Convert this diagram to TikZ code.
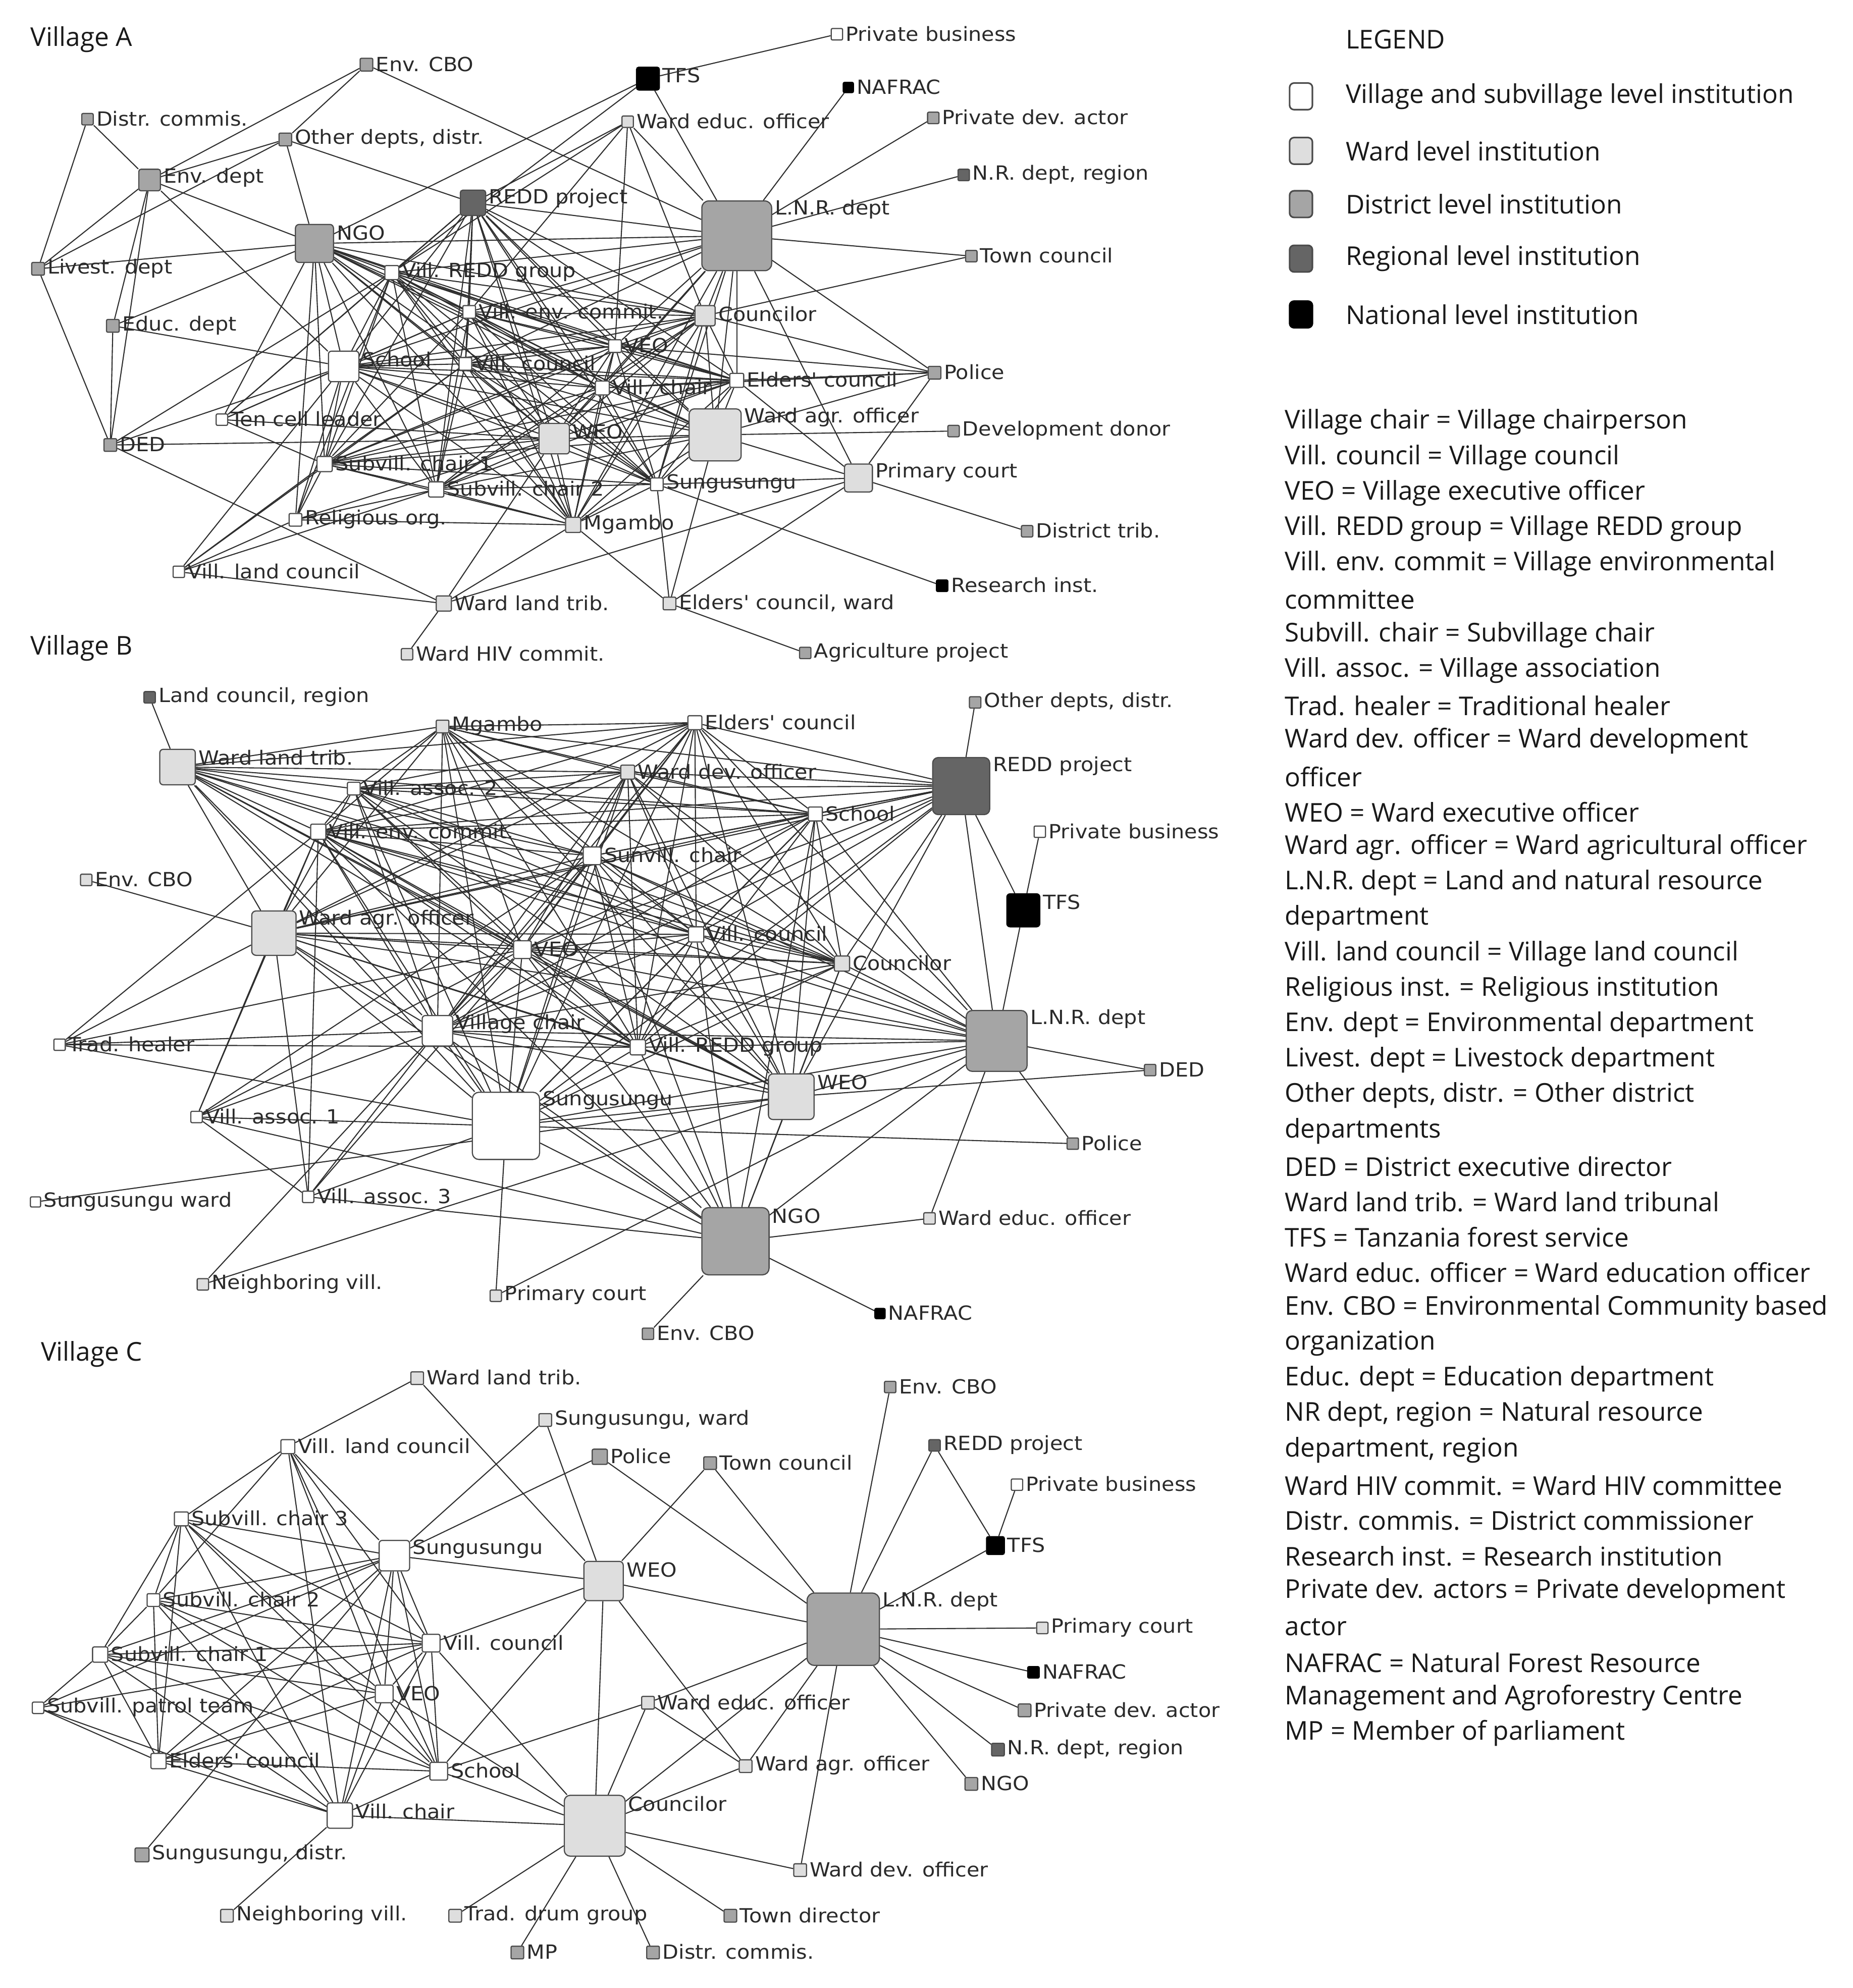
\documentclass[tikz,border=0pt]{standalone}
\usepackage{fontspec}
\setmainfont{Open Sans}
\newfontfamily\labf[FakeStretch=1.07]{DejaVu Sans}
\usetikzlibrary{calc}
\pgfdeclarelayer{bgl}
\pgfdeclarelayer{edges}
\pgfsetlayers{bgl,edges,main}
\definecolor{cwrd}{HTML}{DEDEDE}
\definecolor{cdis}{HTML}{A5A5A5}
\definecolor{creg}{HTML}{656565}
\definecolor{cnat}{HTML}{000000}
\definecolor{cbrd}{HTML}{4A4A4A}
\definecolor{cedge}{HTML}{2E2E2E}
\definecolor{ctxt}{HTML}{2A2A2A}
\def\un{0.02511cm}
\tikzset{
  sq/.style={rectangle, draw=cbrd, line width=0.65pt, inner sep=0pt},
  vil/.style={fill=white},
  wrd/.style={fill=cwrd},
  dis/.style={fill=cdis},
  reg/.style={fill=creg},
  nat/.style={fill=cnat, draw=black},
  lab/.style={font=\labf\fontsize{11}{13}\selectfont, text=ctxt, inner sep=0pt},
  edge/.style={draw=cedge, line width=0.6pt},
  head/.style={font=\fontsize{14.6}{18}\selectfont, text=black!90, inner sep=0pt},
  legsq/.style={rectangle, draw=cbrd, line width=0.9pt, minimum width=18*\un, minimum height=21*\un, rounded corners=2.5pt, inner sep=0pt},
  deftxt/.style={font=\fontsize{14.6}{18}\selectfont, text=black!90, inner sep=0pt, anchor=west}
}
\newcommand\nd[6]{%
  \pgfmathsetmacro\ndrc{max(0.7,#4*0.07)}%
  \pgfmathsetmacro\ndy{min(#4/2,7)}%
  \node[sq,#5,minimum size=#4*\un,rounded corners=\ndrc pt] (#1) at (#2,#3) {};
  \node[lab,anchor=west] (#1-l) at ([xshift=1.8*\un,yshift=-\ndy*\un]#1.north east) {#6};
}
\newcommand\clique[1]{%
  \foreach \p [count=\i] in {#1}{%
    \foreach \q [count=\j] in {#1}{%
      \ifnum\j>\i \draw[edge] (\p) -- (\q);\fi
    }%
  }%
}
\newcommand\hub[2]{\foreach \q in {#2}{\draw[edge] (#1) -- (\q);}}
\newcommand\links[1]{\foreach \p/\q in {#1}{\draw[edge] (\p) -- (\q);}}
\begin{document}
\begin{tikzpicture}[x=0.02511cm,y=-0.02511cm]
\useasboundingbox (0,0) rectangle (1461,1568);
\begin{pgfonlayer}{bgl}
\fill[white] (0,0) rectangle (1461,1568);
\end{pgfonlayer}

% ---------------- headings ----------------
\node[head,anchor=west] (hA) at (24,31) {Village A};
\node[head,anchor=west] (hB) at (24,511) {Village B};
\node[head,anchor=west] (hC) at (32,1068) {Village C};

% ---------------- Village A ----------------
\nd{aEnvCBO}{289}{51}{10}{dis}{Env. CBO}
\nd{aDistr}{69}{94}{9}{dis}{Distr. commis.}
\nd{aOther}{225}{110}{10}{dis}{Other depts, distr.}
\nd{aEnvD}{118}{142}{17}{dis}{Env. dept}
\nd{aNGO}{248}{192}{30}{dis}{NGO}
\nd{aREDD}{373}{160}{20}{reg}{REDD project}
\nd{aTFS}{511}{62}{18}{nat}{TFS}
\nd{aPriv}{660}{27}{9}{vil}{Private business}
\nd{aNAF}{669}{69}{8}{nat}{NAFRAC}
\nd{aWEdu}{495}{96}{9}{wrd}{Ward educ. officer}
\nd{aPDev}{736}{93}{9}{dis}{Private dev. actor}
\nd{aNRreg}{760}{138}{9}{reg}{N.R. dept, region}
\nd{aLNR}{581}{186}{55}{dis}{L.N.R. dept}
\nd{aTown}{766}{202}{9}{dis}{Town council}
\nd{aLiv}{30}{212}{10}{dis}{Livest. dept}
\nd{aVRG}{309}{215}{11}{vil}{Vill. REDD group}
\nd{aEduD}{89}{257}{10}{dis}{Educ. dept}
\nd{aVEC}{370}{246}{10}{vil}{Vill. env. commit.}
\nd{aCou}{556}{249}{16}{wrd}{Councilor}
\nd{aVEO}{485}{273}{10}{vil}{VEO}
\nd{aSch}{271}{289}{24}{vil}{School}
\nd{aVCo}{367}{287}{10}{vil}{Vill. council}
\nd{aVCh}{475}{306}{11}{vil}{Vill. chair}
\nd{aEld}{581}{300}{11}{vil}{Elders' council}
\nd{aPol}{737}{294}{10}{dis}{Police}
\nd{aTen}{175}{331}{9}{vil}{Ten cell leader}
\nd{aWAg}{564}{343}{41}{wrd}{Ward agr. officer}
\nd{aWEO}{437}{346}{24}{wrd}{WEO}
\nd{aDED}{87}{351}{10}{dis}{DED}
\nd{aDon}{752}{340}{9}{dis}{Development donor}
\nd{aSV1}{256}{366}{12}{vil}{Subvill. chair 1}
\nd{aSV2}{344}{386}{12}{vil}{Subvill. chair 2}
\nd{aSun}{518}{382}{10}{vil}{Sungusungu}
\nd{aPC}{677}{377}{22}{wrd}{Primary court}
\nd{aRel}{233}{410}{10}{vil}{Religious org.}
\nd{aMg}{452}{414}{12}{wrd}{Mgambo}
\nd{aDT}{810}{419}{9}{dis}{District trib.}
\nd{aVLC}{141}{451}{9}{vil}{Vill. land council}
\nd{aRes}{743}{462}{9}{nat}{Research inst.}
\nd{aWLT}{350}{476}{12}{wrd}{Ward land trib.}
\nd{aEldW}{528}{476}{10}{wrd}{Elders' council, ward}
\nd{aHIV}{321}{516}{9}{wrd}{Ward HIV commit.}
\nd{aAgr}{635}{515}{9}{dis}{Agriculture project}

% ---------------- Village B ----------------
\nd{bLandR}{118}{550}{9}{reg}{Land council, region}
\nd{bOther}{769}{554}{9}{dis}{Other depts, distr.}
\nd{bMg}{349}{573}{10}{wrd}{Mgambo}
\nd{bEld}{548}{570}{11}{vil}{Elders' council}
\nd{bWLT}{140}{605}{28}{wrd}{Ward land trib.}
\nd{bWDev}{495}{609}{11}{wrd}{Ward dev. officer}
\nd{bREDD}{758}{620}{45}{reg}{REDD project}
\nd{bVA2}{279}{622}{10}{vil}{Vill. assoc. 2}
\nd{bSch}{643}{642}{11}{vil}{School}
\nd{bVEC}{251}{656}{12}{vil}{Vill. env. commit.}
\nd{bPriv}{820}{656}{9}{vil}{Private business}
\nd{bSV}{467}{675}{14}{vil}{Sunvill. chair}
\nd{bEnvCBO}{68}{694}{9}{wrd}{Env. CBO}
\nd{bTFS}{807}{718}{26}{nat}{TFS}
\nd{bWAg}{216}{736}{35}{wrd}{Ward agr. officer}
\nd{bVEO}{412}{749}{14}{vil}{VEO}
\nd{bVCo}{549}{737}{12}{vil}{Vill. council}
\nd{bCou}{664}{760}{12}{wrd}{Councilor}
\nd{bLNR}{786}{821}{48}{dis}{L.N.R. dept}
\nd{bVCh}{345}{813}{24}{vil}{Village chair}
\nd{bTrad}{47}{824}{9}{vil}{Trad. healer}
\nd{bVRG}{503}{826}{12}{vil}{Vill. REDD group}
\nd{bDED}{907}{844}{9}{dis}{DED}
\nd{bWEO}{624}{865}{36}{wrd}{WEO}
\nd{bSun}{399}{888}{53}{vil}{Sungusungu}
\nd{bVA1}{155}{881}{9}{vil}{Vill. assoc. 1}
\nd{bPol}{846}{902}{9}{dis}{Police}
\nd{bSunW}{28}{948}{8}{vil}{Sungusungu ward}
\nd{bVA3}{243}{944}{9}{vil}{Vill. assoc. 3}
\nd{bNGO}{580}{979}{53}{dis}{NGO}
\nd{bWEdu}{733}{961}{9}{wrd}{Ward educ. officer}
\nd{bNeigh}{160}{1013}{9}{wrd}{Neighboring vill.}
\nd{bPC}{391}{1022}{9}{wrd}{Primary court}
\nd{bNAF}{694}{1036}{8}{nat}{NAFRAC}
\nd{bEnvCBOd}{511}{1052}{9}{dis}{Env. CBO}

% ---------------- Village C ----------------
\nd{cWLT}{329}{1087}{10}{wrd}{Ward land trib.}
\nd{cEnvCBO}{702}{1094}{9}{dis}{Env. CBO}
\nd{cSunW}{430}{1120}{10}{wrd}{Sungusungu, ward}
\nd{cVLC}{227}{1141}{11}{vil}{Vill. land council}
\nd{cREDD}{737}{1140}{9}{reg}{REDD project}
\nd{cPol}{473}{1149}{12}{dis}{Police}
\nd{cTown}{560}{1154}{10}{dis}{Town council}
\nd{cPriv}{802}{1171}{9}{vil}{Private business}
\nd{cSV3}{143}{1198}{11}{vil}{Subvill. chair 3}
\nd{cSun}{311}{1227}{24}{vil}{Sungusungu}
\nd{cTFS}{785}{1219}{14}{nat}{TFS}
\nd{cWEO}{476}{1247}{31}{wrd}{WEO}
\nd{cSV2}{121}{1262}{10}{vil}{Subvill. chair 2}
\nd{cLNR}{665}{1285}{57}{dis}{L.N.R. dept}
\nd{cPC}{822}{1284}{9}{wrd}{Primary court}
\nd{cVCo}{340}{1296}{14}{vil}{Vill. council}
\nd{cSV1}{79}{1305}{12}{vil}{Subvill. chair 1}
\nd{cNAF}{815}{1319}{9}{nat}{NAFRAC}
\nd{cVEO}{303}{1336}{14}{vil}{VEO}
\nd{cPatrol}{30}{1347}{9}{vil}{Subvill. patrol team}
\nd{cWEdu}{511}{1343}{10}{wrd}{Ward educ. officer}
\nd{cPDev}{808}{1349}{10}{dis}{Private dev. actor}
\nd{cNRreg}{787}{1380}{10}{reg}{N.R. dept, region}
\nd{cEld}{125}{1389}{12}{vil}{Elders' council}
\nd{cWAg}{588}{1393}{10}{wrd}{Ward agr. officer}
\nd{cSch}{346}{1397}{14}{vil}{School}
\nd{cNGO}{766}{1407}{10}{dis}{NGO}
\nd{cCou}{469}{1440}{48}{wrd}{Councilor}
\nd{cVCh}{268}{1432}{20}{vil}{Vill. chair}
\nd{cSunD}{112}{1463}{11}{dis}{Sungusungu, distr.}
\nd{cWDev}{631}{1475}{10}{wrd}{Ward dev. officer}
\nd{cNeigh}{179}{1511}{10}{wrd}{Neighboring vill.}
\nd{cTrad}{359}{1511}{10}{wrd}{Trad. drum group}
\nd{cTownD}{576}{1511}{10}{dis}{Town director}
\nd{cMP}{408}{1540}{10}{dis}{MP}
\nd{cDistr}{515}{1540}{10}{dis}{Distr. commis.}

% ---------------- edges ----------------
\begin{pgfonlayer}{edges}
% Village A
\links{aEnvCBO/aEnvD, aEnvCBO/aOther, aEnvCBO/aLNR, aDistr/aEnvD, aDistr/aLiv, aOther/aEnvD, aOther/aLiv, aOther/aNGO, aOther/aREDD, aEnvD/aLiv, aEnvD/aEduD, aEnvD/aNGO, aEnvD/aSch, aEnvD/aDED, aLiv/aDED, aLiv/aNGO, aEduD/aNGO, aEduD/aSch, aEduD/aDED, aDED/aVRG, aDED/aSch, aDED/aWEO, aDED/aWLT, aNGO/aTFS, aNGO/aLNR, aTFS/aPriv, aTFS/aVRG, aTFS/aLNR, aWEdu/aLNR, aWEdu/aCou, aWEdu/aVRG, aWEdu/aREDD, aWEdu/aVEC, aWEdu/aVEO, aNAF/aLNR, aPDev/aLNR, aNRreg/aLNR, aLNR/aTown, aTown/aCou, aLNR/aPol, aCou/aPol, aREDD/aLNR, aTen/aNGO, aTen/aSV1, aTen/aSch, aTen/aVRG, aTen/aVEC, aTen/aWEO, aVLC/aSV1, aVLC/aRel, aVLC/aSV2, aVLC/aSch, aVLC/aWLT, aVLC/aVCo, aRel/aMg, aRel/aSV1, aRel/aSV2, aRel/aVRG, aRel/aSch, aRel/aWEO, aWLT/aWEO, aWLT/aPC, aWLT/aMg, aHIV/aWLT, aMg/aEldW, aSun/aEldW, aSun/aPC, aSun/aRes, aPC/aEldW, aPC/aDT, aEldW/aAgr, aEldW/aWAg, aWAg/aDon, aWAg/aPC, aPC/aEld, aPC/aPol, aPC/aLNR, aPol/aEld, aPol/aVCh, aPol/aWAg, aWAg/aLNR, aPol/aVEO}
\hub{aREDD}{aVRG, aVEC, aSch, aVCo, aVEO, aVCh, aWEO, aSV1, aSV2, aSun, aMg, aCou, aEld, aTen, aWAg}
\hub{aNGO}{aVRG, aVEC, aSch, aVCo, aVEO, aVCh, aWEO, aSV1, aSV2, aSun, aMg, aRel, aWAg, aCou, aEld}
\hub{aLNR}{aVRG, aVEC, aCou, aVEO, aSch, aVCo, aVCh, aEld, aWEO, aSun, aMg}
\clique{aVRG, aVEC, aCou, aVEO, aSch, aVCo, aVCh, aEld, aWEO, aWAg, aSV1, aSV2, aSun, aMg}
% Village B
\links{bLandR/bWLT, bOther/bREDD, bPriv/bTFS, bTFS/bREDD, bTFS/bLNR, bREDD/bLNR, bEnvCBO/bWAg, bTrad/bVCh, bTrad/bVRG, bTrad/bWAg, bTrad/bVEC, bTrad/bSun, bTrad/bVEO, bVA1/bSun, bVA1/bVEC, bVA1/bVA3, bVA1/bWAg, bVA1/bVCh, bVA1/bVEO, bVA1/bSV, bVA3/bVCh, bVA3/bVEO, bVA3/bWAg, bVA3/bSun, bVA3/bVEC, bSunW/bWEO, bNeigh/bVCh, bNeigh/bWEO, bPC/bSun, bPC/bLNR, bNGO/bWEdu, bNGO/bNAF, bNGO/bEnvCBOd, bNGO/bLNR, bLNR/bDED, bWEO/bDED, bLNR/bPol, bLNR/bWEdu, bPol/bSun, bWEO/bLNR}
\hub{bREDD}{bEld, bWDev, bSch, bSV, bVA2, bVEC, bWAg, bVEO, bVCo, bCou, bVCh, bVRG, bWEO, bSun, bMg}
\hub{bLNR}{bWDev, bSch, bSV, bWAg, bVEO, bVCo, bCou, bVCh, bVRG, bSun, bVEC, bEld}
\hub{bNGO}{bVCh, bVRG, bVEO, bSV, bWAg, bVEC, bSun, bWEO, bVCo, bCou, bSch, bVA1, bVA3}
\clique{bWLT, bMg, bEld, bWDev, bVA2, bVEC, bSch, bSV, bWAg, bVEO, bVCo, bCou, bVCh, bVRG, bWEO, bSun}
% Village C
\links{cWLT/cVLC, cWLT/cWEO, cSunW/cSun, cSunW/cWEO, cPol/cSun, cPol/cLNR, cTown/cWEO, cTown/cLNR, cEnvCBO/cLNR, cREDD/cLNR, cREDD/cTFS, cPriv/cTFS, cTFS/cLNR, cLNR/cPC, cLNR/cNAF, cLNR/cPDev, cLNR/cNRreg, cLNR/cNGO, cWEO/cLNR, cWEO/cWAg, cLNR/cWEdu, cLNR/cWAg, cLNR/cWDev, cLNR/cCou, cCou/cWEdu, cWEdu/cWAg, cCou/cWAg, cCou/cWDev, cCou/cTownD, cCou/cDistr, cCou/cTrad, cCou/cMP, cWEO/cCou, cWEdu/cSch, cSun/cWEO, cVCo/cWEO, cWEO/cSch, cVCo/cCou, cVEO/cCou, cSch/cCou, cVCh/cCou, cNeigh/cVCh, cSunD/cSun, cVLC/cSV3, cVLC/cSV2, cVLC/cVCo, cVLC/cVEO, cVLC/cSch, cVLC/cVCh, cVLC/cSun, cSV3/cSV2, cSV3/cSV1, cSV3/cSun, cSV3/cVCo, cSV3/cVEO, cSV3/cSch, cSV3/cVCh, cSV3/cEld, cSV2/cSV1, cSV2/cSun, cSV2/cVCo, cSV2/cVEO, cSV2/cSch, cSV2/cVCh, cSV2/cEld, cSV1/cPatrol, cSV1/cEld, cSV1/cSun, cSV1/cVCo, cSV1/cVEO, cSV1/cSch, cSV1/cVCh, cPatrol/cEld, cPatrol/cVCh, cPatrol/cSun, cPatrol/cVCo, cEld/cSch, cEld/cVCh, cEld/cVEO, cEld/cSun, cEld/cVCo, cSun/cVCo, cSun/cVEO, cSun/cSch, cSun/cVCh, cVCo/cVEO, cVCo/cSch, cVCo/cVCh, cVEO/cSch, cVEO/cVCh, cSch/cVCh}
\end{pgfonlayer}

% ---------------- legend ----------------
\node[head,anchor=west] (legT) at (1061,31) {LEGEND};
\node[legsq,vil] (lg1) at (1026,76) {};
\node[legsq,wrd] (lg2) at (1026,119) {};
\node[legsq,dis] (lg3) at (1026,161) {};
\node[legsq,reg] (lg4) at (1026,204) {};
\node[legsq,nat] (lg5) at (1026,248) {};
\node[deftxt] (lt1) at (1061,76) {Village and subvillage level institution};
\node[deftxt] (lt2) at (1061,119) {Ward level institution};
\node[deftxt] (lt3) at (1061,161) {District level institution};
\node[deftxt] (lt4) at (1061,204) {Regional level institution};
\node[deftxt] (lt5) at (1061,248) {National level institution};

\foreach \t [count=\k from 0] in {
 {Village chair = Village chairperson},
 {Vill. council = Village council},
 {VEO = Village executive officer},
 {Vill. REDD group = Village REDD group},
 {Vill. env. commit = Village environmental},
 {committee},
 {Subvill. chair = Subvillage chair},
 {Vill. assoc. = Village association},
 {Trad. healer = Traditional healer},
 {Ward dev. officer = Ward development},
 {officer},
 {WEO = Ward executive officer},
 {Ward agr. officer = Ward agricultural officer},
 {L.N.R. dept = Land and natural resource},
 {department},
 {Vill. land council = Village land council},
 {Religious inst. = Religious institution},
 {Env. dept = Environmental department},
 {Livest. dept = Livestock department},
 {Other depts, distr. = Other district},
 {departments},
 {DED = District executive director},
 {Ward land trib. = Ward land tribunal},
 {TFS = Tanzania forest service},
 {Ward educ. officer = Ward education officer},
 {Env. CBO = Environmental Community based},
 {organization},
 {Educ. dept = Education department},
 {NR dept, region = Natural resource},
 {department, region},
 {Ward HIV commit. = Ward HIV committee},
 {Distr. commis. = District commissioner},
 {Research inst. = Research institution},
 {Private dev. actors = Private development},
 {actor},
 {NAFRAC = Natural Forest Resource},
 {Management and Agroforestry Centre},
 {MP = Member of parliament}}
 { \node[deftxt] (def\k) at (1013,{333+27.95*\k}) {\t}; }
\end{tikzpicture}
\end{document}
